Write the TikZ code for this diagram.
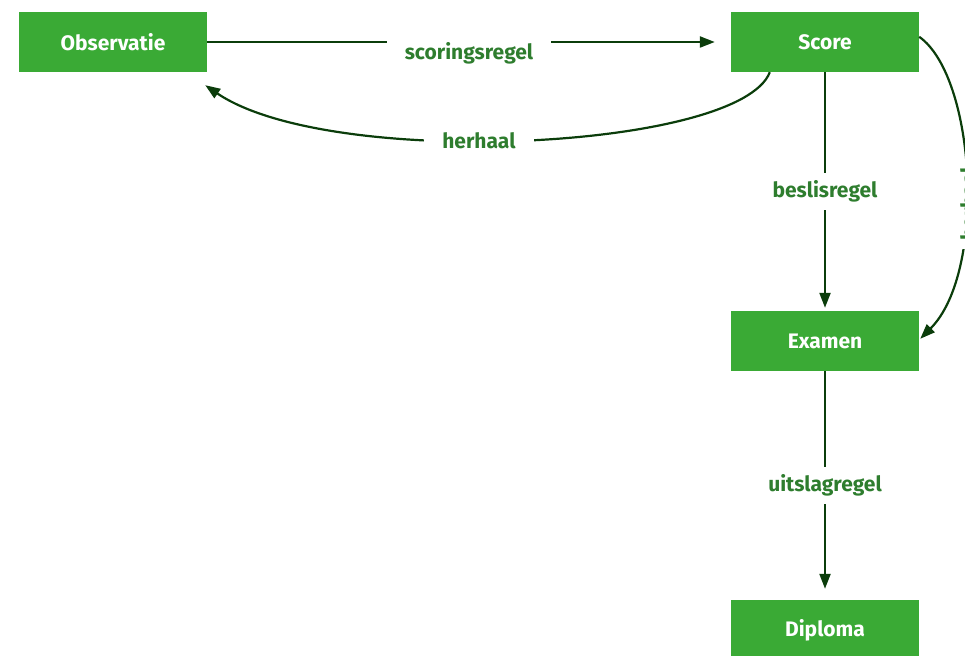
\documentclass[tikz,border=0pt]{standalone}
\usepackage{fontspec}
\setmainfont{Fira Sans}
\usetikzlibrary{arrows.meta,calc}
\definecolor{boxgreen}{HTML}{3AAA35}
\definecolor{linegreen}{HTML}{0B3D0B}
\definecolor{labelgreen}{HTML}{2E7D2E}
\tikzset{
  stepbox/.style={fill=boxgreen, draw=none, minimum width=188pt, minimum height=60pt,
    text=white, font=\fontsize{21}{24}\selectfont\bfseries, inner sep=0pt},
  conn/.style={draw=linegreen, line width=2.2pt, -{Triangle[length=15pt,width=11pt]}},
  lbl/.style={fill=white, text=labelgreen, font=\fontsize{21}{24}\selectfont\bfseries,
    inner xsep=18pt, inner ysep=8pt}
}
\begin{document}
\begin{tikzpicture}[x=1pt,y=-1pt]
\useasboundingbox (0,0) rectangle (965,655);
\clip (0,0) rectangle (965,655);
\node[stepbox] (obs) at (113,42) {Observatie};
\node[stepbox] (score) at (825,42) {Score};
\node[stepbox] (examen) at (825,341) {Examen};
\node[stepbox] (diploma) at (825,630) {Diploma};

\draw[conn, shorten >=16pt] (obs) -- node[lbl, yshift=-11pt] {scoringsregel} (score);
\draw[conn] ($(score.south west)+(39,0)$) .. controls (740,150) and (330,170) ..
  node[lbl, pos=0.56] {herhaal} ($(obs.south east)+(-2,13)$);
\draw[conn, shorten >=3pt] (score) -- node[lbl] {beslisregel} (examen);
\draw[conn, shorten >=11pt] (examen) -- node[lbl] {uitslagregel} (diploma);
\draw[conn] ($(score.north east)+(0,25)$) .. controls (976,77) and (987,272) ..
  node[lbl, pos=0.57, xshift=2.5pt, rotate=90, inner xsep=8pt] {herhaal} ($(examen.north east)+(1,28)$);
\end{tikzpicture}
\end{document}
